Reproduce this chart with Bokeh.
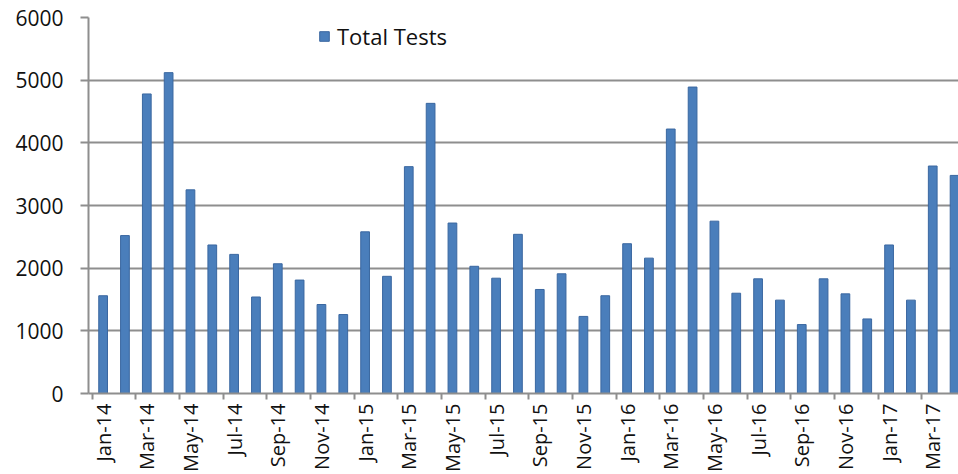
import math
from bokeh.plotting import figure
from bokeh.models import FixedTicker, Range1d, ColumnDataSource
from bokeh.embed import file_html
from bokeh.resources import INLINE

months = ["Jan-14", "Feb-14", "Mar-14", "Apr-14", "May-14", "Jun-14", "Jul-14", "Aug-14",
          "Sep-14", "Oct-14", "Nov-14", "Dec-14",
          "Jan-15", "Feb-15", "Mar-15", "Apr-15", "May-15", "Jun-15", "Jul-15", "Aug-15",
          "Sep-15", "Oct-15", "Nov-15", "Dec-15",
          "Jan-16", "Feb-16", "Mar-16", "Apr-16", "May-16", "Jun-16", "Jul-16", "Aug-16",
          "Sep-16", "Oct-16", "Nov-16", "Dec-16",
          "Jan-17", "Feb-17", "Mar-17", "Apr-17"]

total_tests = [1560, 2520, 4780, 5120, 3250, 2370, 2220, 1540, 2070, 1810, 1420, 1260,
               2580, 1870, 3620, 4630, 2720, 2030, 1840, 2540, 1660, 1910, 1230, 1560,
               2390, 2160, 4220, 4890, 2750, 1600, 1830, 1490, 1100, 1830, 1590, 1190,
               2370, 1490, 3630, 3480]

y_ticks = [0, 1000, 2000, 3000, 4000, 5000, 6000]

xs = list(range(len(months)))
label_idx = xs[::2]
label_map = {i: months[i] for i in label_idx}

src = ColumnDataSource(dict(x=xs, tests=total_tests, month=months))

FONT = "Open Sans"
GRID = "#8e8e8e"

p = figure(width=958, height=474, output_backend="svg", toolbar_location=None,
           x_range=Range1d(-0.67, 39.18), y_range=Range1d(0, 6000),
           min_border_left=88, min_border_right=0, min_border_top=17, min_border_bottom=81)
p.outline_line_color = None
p.background_fill_color = "white"

p.vbar(x="x", top="tests", width=0.4, source=src,
       fill_color="#4a7ebb", line_color="#3a67a0", line_width=1,
       legend_label="Total Tests")

# x axis
p.xaxis.ticker = FixedTicker(ticks=label_idx, minor_ticks=[i - 0.5 for i in label_idx])
p.xaxis.major_label_overrides = label_map
p.xaxis.major_label_orientation = math.pi / 2
p.xaxis.major_tick_out = 0
p.xaxis.major_tick_in = 0
p.xaxis.minor_tick_out = 6
p.xaxis.minor_tick_in = 0
p.xaxis.minor_tick_line_color = GRID
p.xaxis.minor_tick_line_width = 2
p.xaxis.axis_line_color = GRID
p.xaxis.axis_line_width = 2
p.xaxis.major_label_text_font = FONT
p.xaxis.major_label_text_font_size = "20px"
p.xaxis.major_label_text_color = "#111111"
p.xaxis.major_label_standoff = 4
p.xgrid.visible = False

# y axis
p.yaxis.ticker = FixedTicker(ticks=y_ticks, minor_ticks=[])
p.yaxis.major_tick_out = 8
p.yaxis.major_tick_in = 0
p.yaxis.major_tick_line_color = GRID
p.yaxis.major_tick_line_width = 2
p.yaxis.axis_line_color = GRID
p.yaxis.axis_line_width = 2
p.yaxis.major_label_text_font = FONT
p.yaxis.major_label_text_font_size = "21px"
p.yaxis.major_label_text_color = "#111111"
p.yaxis.major_label_standoff = 17
p.ygrid.grid_line_color = GRID
p.ygrid.grid_line_width = 2

# legend
p.legend.location = (230, 342)
p.legend.border_line_color = None
p.legend.background_fill_alpha = 0
p.legend.padding = 0
p.legend.margin = 0
p.legend.glyph_width = 12
p.legend.glyph_height = 12
p.legend.label_standoff = 7
p.legend.label_text_font = FONT
p.legend.label_text_font_size = "22px"
p.legend.label_text_color = "#111111"

open("out.html", "w").write(file_html(p, INLINE))
